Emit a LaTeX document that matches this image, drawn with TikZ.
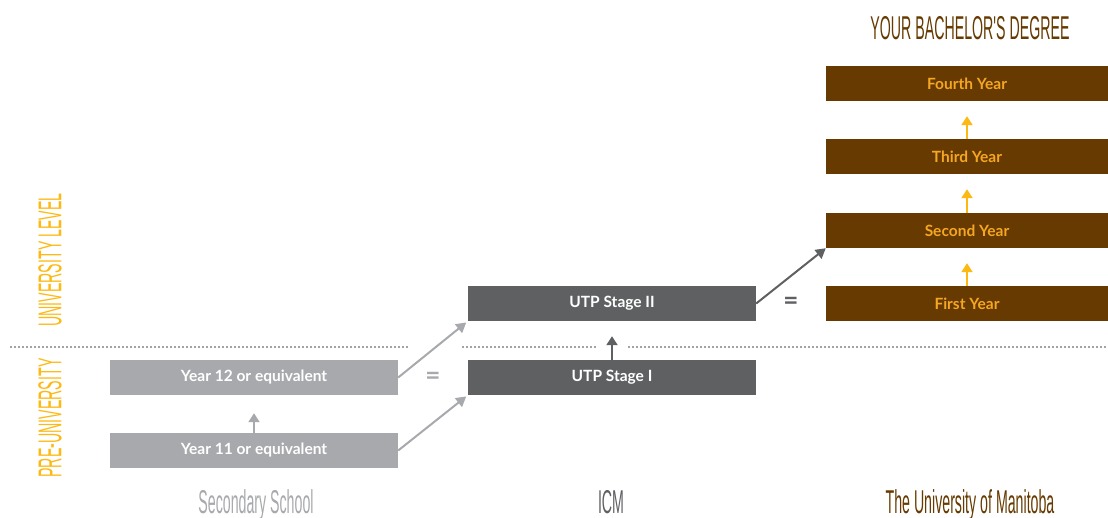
\documentclass[tikz,border=0pt]{standalone}
\usepackage{fontspec}
\setmainfont{Lato}
\newfontfamily\condfont[FakeStretch=0.43]{Liberation Sans}
\usetikzlibrary{arrows.meta}
\definecolor{umbrown}{HTML}{663A00}
\definecolor{umorange}{HTML}{F5A623}
\definecolor{umyellow}{HTML}{FDB913}
\definecolor{icmgrey}{HTML}{5F6062}
\definecolor{schgrey}{HTML}{A7A9AC}
\definecolor{dotgrey}{HTML}{A3A3A3}
\tikzset{
  yearbox/.style={minimum width=282pt, minimum height=35pt, inner sep=0pt,
    fill=umbrown, text=umorange, font=\bfseries\fontsize{15.5}{15.5}\selectfont},
  stagebox/.style={minimum width=288pt, minimum height=35pt, inner sep=0pt,
    fill=icmgrey, text=white, font=\bfseries\fontsize{15.5}{15.5}\selectfont},
  schoolbox/.style={minimum width=288pt, minimum height=35pt, inner sep=0pt,
    fill=schgrey, text=white, font=\bfseries\fontsize{15.5}{15.5}\selectfont},
  cond/.style={font=\condfont\fontsize{33}{33}\selectfont, inner sep=0pt},
  uparrow/.style={line width=2pt, -{Triangle[length=9pt,width=11pt]}},
  slant/.style={line width=2pt, -{Triangle[length=10pt,width=11pt]}},
  eqsign/.style={font=\bfseries\fontsize{26}{26}\selectfont, inner sep=0pt}
}
\begin{document}
\begin{tikzpicture}[x=1pt,y=-1pt]
  \useasboundingbox (0,0) rectangle (1108,518);

  % university of manitoba
  \node [cond, text=umbrown, anchor=base] (title) at (970,40) {YOUR BACHELOR'S DEGREE};
  \node [yearbox] (fourth) at (967,83.5) {Fourth Year};
  \node [yearbox] (third) at (967,156.5) {Third Year};
  \node [yearbox] (second) at (967,230.5) {Second Year};
  \node [yearbox] (first) at (967,303.5) {First Year};
  \draw [uparrow, umyellow, shorten >=15pt] (third.north) -- (fourth.south);
  \draw [uparrow, umyellow, shorten >=15pt] (second.north) -- (third.south);
  \draw [uparrow, umyellow, shorten >=15pt] (first.north) -- (second.south);

  % icm
  \node [stagebox] (stagetwo) at (612,303.5) {UTP Stage II};
  \node [stagebox] (stageone) at (612,377.5) {UTP Stage I};
  \draw [uparrow, icmgrey, shorten >=15pt] (stageone.north) -- (stagetwo.south);
  \draw [slant, icmgrey] (stagetwo.east) -- (second.south west);
  \node [eqsign, text=icmgrey] (eqtwo) at (791,303) {=};

  % secondary school
  \node [schoolbox] (yeartwelve) at (254,377.5) {Year 12 or equivalent};
  \node [schoolbox] (yeareleven) at (254,450.5) {Year 11 or equivalent};
  \draw [uparrow, schgrey, shorten >=18pt] (yeareleven.north) -- (yeartwelve.south);
  \draw [slant, schgrey, shorten >=2pt] (yeartwelve.east) -- (stagetwo.south west);
  \draw [slant, schgrey, shorten >=2pt] (yeareleven.east) -- (stageone.south west);
  \node [eqsign, text=schgrey] (eqone) at (433,378) {=};

  % divider
  \coordinate (da) at (10,347);
  \coordinate (db) at (408,347);
  \coordinate (dc) at (462,347);
  \coordinate (dd) at (597,347);
  \coordinate (de) at (628,347);
  \coordinate (df) at (1108,347);
  \draw [dotgrey, line width=1.5pt, dash pattern=on 1.5pt off 2.5pt] (da) -- (db);
  \draw [dotgrey, line width=1.5pt, dash pattern=on 1.5pt off 2.5pt] (dc) -- (dd);
  \draw [dotgrey, line width=1.5pt, dash pattern=on 1.5pt off 2.5pt] (de) -- (df);

  % levels
  \node [cond, text=umyellow, rotate=90] (unilevel) at (50,260) {UNIVERSITY LEVEL};
  \node [cond, text=umyellow, rotate=90] (preuni) at (50,418) {PRE-UNIVERSITY};

  % institutions
  \node [cond, text=schgrey, anchor=base] (school) at (256,513) {Secondary School};
  \node [cond, text=icmgrey, anchor=base] (icm) at (611,513) {ICM};
  \node [cond, text=umbrown, anchor=base] (uofm) at (970,513) {The University of Manitoba};
\end{tikzpicture}
\end{document}
